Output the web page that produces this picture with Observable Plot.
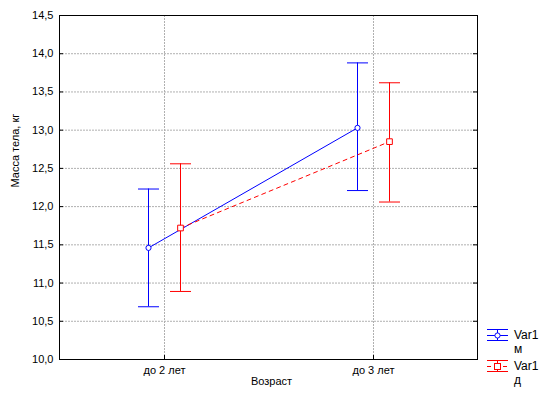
<!DOCTYPE html>
<html><head><meta charset="utf-8">
<script src="https://cdn.jsdelivr.net/npm/d3@7"></script>
<script src="https://cdn.jsdelivr.net/npm/@observablehq/plot@0.6"></script>
<style>
body{margin:0;background:#fff;font-family:Arial,"Liberation Sans",sans-serif}
#wrap{position:relative;width:546px;height:409px;overflow:hidden}
#legend{position:absolute;left:0;top:0}
</style>
</head><body><div id="wrap"></div>
<script>
const ages = ["до 2 лет", "до 3 лет"];
const seriesLabels = [["Var1", "м"], ["Var1", "д"]];
const seriesColors = ["#0000ff", "#ff0000"];
const meansM = [11.46, 13.03];
const lowM = [10.69, 12.21];
const highM = [12.23, 13.88];
const meansD = [11.72, 12.85];
const lowD = [10.89, 12.06];
const highD = [12.56, 13.62];
const yTicks = [10, 10.5, 11, 11.5, 12, 12.5, 13, 13.5, 14, 14.5];
const yTitle = "Масса тела, кг";
const xTitle = "Возраст";

const rows = (means, low, high) => ages.map((a, i) => ({age: a, mean: means[i], low: low[i], high: high[i]}));
const dataM = rows(meansM, lowM, highM);
const dataD = rows(meansD, lowD, highD);

const W = 546, H = 409;
const mL = 59, mT = 15, mR = 69, mB = 50;
const plotW = W - mL - mR, plotH = H - mT - mB;
const grid = {stroke: "#b0b0b0", strokeDasharray: "2,1"};
const fmt = d => d.toFixed(1).replace(".", ",");
const hbar = {draw(ctx, size) { const w = Math.sqrt(size / Math.PI); ctx.moveTo(-w, 0); ctx.lineTo(w, 0); }};

function series(data, color, dx, dashed, symbol) {
  return [
    Plot.line(data, {x: "age", y: "mean", stroke: color, strokeWidth: 1, dx, strokeDasharray: dashed ? "4,4" : null}),
    Plot.ruleX(data, {x: "age", y1: "low", y2: "high", stroke: color, dx}),
    Plot.dot(data, {x: "age", y: "high", symbol: hbar, r: 10.5, fill: "none", stroke: color, strokeWidth: 1, dx}),
    Plot.dot(data, {x: "age", y: "low", symbol: hbar, r: 10.5, fill: "none", stroke: color, strokeWidth: 1, dx}),
    Plot.dot(data, {x: "age", y: "mean", r: symbol === "square" ? 3.2 : 2.6, symbol, fill: "white", stroke: color, strokeWidth: 1, dx})
  ];
}

const chart = Plot.plot({
  width: W, height: H,
  marginLeft: mL, marginTop: mT, marginRight: mR, marginBottom: mB,
  style: {fontFamily: "Arial, 'Liberation Sans', sans-serif", fontSize: "11px", color: "#000", background: "#fff"},
  x: {type: "point", domain: ages, padding: 0.5, label: null},
  y: {domain: [10, 14.5], label: null},
  marks: [
    Plot.ruleY(yTicks.slice(1, -1), grid),
    Plot.ruleX(ages, grid),
    Plot.ruleY(yTicks, {stroke: "#000", insetRight: plotW - 4}),
    Plot.ruleY(yTicks, {stroke: "#000", insetLeft: plotW - 4}),
    Plot.ruleX(ages, {stroke: "#000", insetTop: plotH - 4}),
    Plot.axisY({ticks: yTicks, tickFormat: fmt, tickSize: 0, tickPadding: 6, label: null, fontSize: 11}),
    Plot.axisX({tickSize: 0, tickPadding: 7, label: null, fontSize: 11}),
    Plot.frame({stroke: "#000"}),
    ...series(dataM, seriesColors[0], -16, false, "circle"),
    ...series(dataD, seriesColors[1], 16, true, "square"),
    Plot.text([yTitle], {frameAnchor: "left", rotate: -90, dx: -44, fontSize: 11}),
    Plot.text([xTitle], {frameAnchor: "bottom", dy: 25, dx: 3, fontSize: 11})
  ]
});
document.getElementById("wrap").appendChild(chart);

// legend
const svg = d3.select("#wrap").append("svg").attr("id", "legend")
  .attr("width", W).attr("height", H)
  .style("font-family", "Arial, 'Liberation Sans', sans-serif").style("font-size", "12px");
const legendY = [335, 366];
seriesLabels.forEach((lab, i) => {
  const cy = legendY[i] + 0.5, c = seriesColors[i];
  const g = svg.append("g");
  g.append("line").attr("x1", 487).attr("x2", 508).attr("y1", cy).attr("y2", cy).attr("stroke", c)
    .attr("stroke-dasharray", i === 1 ? "4,4" : null);
  g.append("line").attr("x1", 487).attr("x2", 508).attr("y1", cy - 6).attr("y2", cy - 6).attr("stroke", c);
  g.append("line").attr("x1", 487).attr("x2", 508).attr("y1", cy + 5).attr("y2", cy + 5).attr("stroke", c);
  g.append("line").attr("x1", 497.5).attr("x2", 497.5).attr("y1", cy - 6).attr("y2", cy + 5).attr("stroke", c);
  if (i === 0) g.append("circle").attr("cx", 497.5).attr("cy", cy).attr("r", 2.6).attr("fill", "#fff").attr("stroke", c);
  else g.append("rect").attr("x", 494.5).attr("y", cy - 3).attr("width", 6).attr("height", 6).attr("fill", "#fff").attr("stroke", c);
  g.append("text").attr("x", 514).attr("y", legendY[i] + 4).text(lab[0]);
  g.append("text").attr("x", 514).attr("y", legendY[i] + 18).text(lab[1]);
});
</script>
</body></html>
